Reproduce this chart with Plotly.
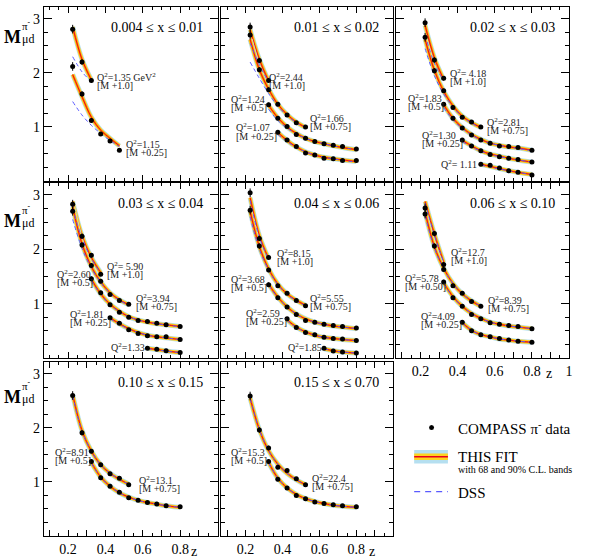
import plotly.graph_objects as go

W, H = 589, 560
FONT = "Liberation Serif"

# ---------------- data ----------------
Z_BINS = [0.225, 0.275, 0.325, 0.375, 0.425, 0.475, 0.525, 0.575, 0.625, 0.675, 0.725, 0.8]
ERR_BY_Z = [0.08, 0.05, 0.04, 0.035, 0.03, 0.025, 0.02, 0.02, 0.02, 0.02, 0.02, 0.02]

X_BIN_TITLES = ["0.004 ≤ x ≤ 0.01", "0.01 ≤ x ≤ 0.02", "0.02 ≤ x ≤ 0.03",
                "0.03 ≤ x ≤ 0.04", "0.04 ≤ x ≤ 0.06", "0.06 ≤ x ≤ 0.10",
                "0.10 ≤ x ≤ 0.15", "0.15 ≤ x ≤ 0.70"]

Y_TICKS = [1, 2, 3]
Y_TICK_TEXT = ["1", "2", "3"]
X_TICKS = [0.1, 0.2, 0.3, 0.4, 0.5, 0.6, 0.7, 0.8, 0.9, 1.0]
X_TICK_TEXT_EDGE = ["", "0.2", "", "0.4", "", "0.6", "", "0.8", "", "1"]
X_TICK_TEXT_INNER = ["", "0.2", "", "0.4", "", "0.6", "", "0.8", "", ""]

# panel 1 : 0.004 <= x <= 0.01
P1_A_M = [2.81, 2.20, 1.86]
P1_A_FIT = [2.85, 2.25, 1.87]
P1_A_DSS = [2.30, 2.02, 1.84]
P1_B_M = [2.12, 1.61, 1.12, 0.87, 0.74, 0.57]
P1_B_FIT = [1.97, 1.56, 1.18, 0.94, 0.79, 0.65]
P1_B_DSS = [1.47, 1.22, 1.03, 0.88, 0.75, 0.64]
# panel 2 : 0.01 <= x <= 0.02
P2_A_M = [2.85, 2.23, 1.86]
P2_A_FIT = [2.80, 2.25, 1.85]
P2_A_DSS = [2.55, 2.15, 1.83]
P2_B_M = [2.70, 2.06, 1.69, 1.42, 1.22, 1.08, 1.00]
P2_B_FIT = [2.62, 2.06, 1.70, 1.42, 1.23, 1.09, 0.99]
P2_B_DSS = [2.20, 1.90, 1.62, 1.39, 1.21, 1.08, 0.99]
P2_C_M = [1.41, 1.16, 1.01, 0.86, 0.79, 0.73, 0.69, 0.66, 0.64, 0.59]
P2_C_FIT = [1.40, 1.17, 1.00, 0.88, 0.79, 0.73, 0.69, 0.65, 0.62, 0.58]
P2_C_DSS = [1.33, 1.12, 0.98, 0.87, 0.79, 0.73, 0.69, 0.65, 0.62, 0.58]
P2_D_M = [0.90, 0.76, 0.64, 0.52, 0.48, 0.42, 0.41, 0.38, 0.38]
P2_D_FIT = [0.90, 0.75, 0.63, 0.54, 0.48, 0.44, 0.41, 0.39, 0.36]
P2_D_DSS = [0.86, 0.73, 0.62, 0.54, 0.48, 0.44, 0.41, 0.38, 0.35]
# panel 3 : 0.02 <= x <= 0.03
P3_A_M = [2.93, 2.24, 1.90]
P3_A_FIT = [2.88, 2.28, 1.88]
P3_A_DSS = [2.70, 2.18, 1.85]
P3_B_M = [2.66, 2.04, 1.67, 1.36, 1.18, 1.09, 1.00]
P3_B_FIT = [2.62, 2.05, 1.66, 1.39, 1.20, 1.08, 0.99]
P3_B_DSS = [2.45, 1.95, 1.61, 1.37, 1.19, 1.07, 0.98]
P3_C_M = [1.42, 1.16, 0.98, 0.85, 0.76, 0.70, 0.65, 0.64, 0.62, 0.57]
P3_C_FIT = [1.41, 1.16, 0.99, 0.86, 0.77, 0.70, 0.66, 0.63, 0.61, 0.57]
P3_C_DSS = [1.36, 1.13, 0.97, 0.85, 0.76, 0.70, 0.66, 0.63, 0.60, 0.56]
P3_D_M = [0.76, 0.65, 0.56, 0.49, 0.45, 0.42, 0.40, 0.35]
P3_D_FIT = [0.75, 0.65, 0.56, 0.50, 0.46, 0.42, 0.39, 0.35]
P3_D_DSS = [0.73, 0.63, 0.55, 0.49, 0.45, 0.42, 0.39, 0.35]
P3_E_M = [0.31, 0.29, 0.24, 0.19, 0.16, 0.11]
P3_E_FIT = [0.31, 0.27, 0.23, 0.19, 0.16, 0.12]
P3_E_DSS = [0.29, 0.26, 0.22, 0.19, 0.16, 0.12]
# panel 4 : 0.03 <= x <= 0.04
P4_A_M = [2.83, 2.24, 1.89, 1.54]
P4_A_FIT = [2.88, 2.25, 1.85, 1.57]
P4_A_DSS = [2.75, 2.20, 1.83, 1.56]
P4_B_M = [2.70, 2.08, 1.70, 1.41, 1.17, 1.06, 0.99]
P4_B_FIT = [2.78, 2.10, 1.68, 1.40, 1.20, 1.07, 0.98]
P4_B_DSS = [2.55, 2.02, 1.65, 1.39, 1.19, 1.06, 0.97]
P4_C_M = [1.46, 1.20, 0.98, 0.84, 0.75, 0.69, 0.67, 0.64, 0.61, 0.58]
P4_C_FIT = [1.45, 1.18, 0.99, 0.86, 0.76, 0.70, 0.66, 0.63, 0.61, 0.58]
P4_C_DSS = [1.42, 1.17, 0.98, 0.85, 0.76, 0.70, 0.66, 0.63, 0.61, 0.57]
P4_D_M = [0.74, 0.64, 0.52, 0.45, 0.41, 0.39, 0.39, 0.34]
P4_D_FIT = [0.74, 0.63, 0.54, 0.47, 0.42, 0.39, 0.37, 0.34]
P4_D_DSS = [0.72, 0.62, 0.53, 0.47, 0.42, 0.39, 0.37, 0.34]
P4_E_M = [0.18, 0.16, 0.135, 0.10]
P4_E_FIT = [0.18, 0.155, 0.13, 0.10]
P4_E_DSS = [0.17, 0.15, 0.125, 0.10]
# panel 5 : 0.04 <= x <= 0.06
P5_A_M = [3.04, 2.20, 1.85]
P5_A_FIT = [2.95, 2.25, 1.83]
P5_A_DSS = [2.90, 2.22, 1.82]
P5_B_M = [2.72, 2.06, 1.62, 1.33, 1.19, 1.06, 0.96]
P5_B_FIT = [2.70, 2.05, 1.64, 1.36, 1.18, 1.06, 0.97]
P5_B_DSS = [2.60, 2.00, 1.62, 1.35, 1.17, 1.05, 0.96]
P5_C_M = [1.35, 1.11, 0.94, 0.80, 0.69, 0.66, 0.62, 0.60, 0.58, 0.55]
P5_C_FIT = [1.36, 1.12, 0.94, 0.81, 0.72, 0.66, 0.62, 0.59, 0.57, 0.54]
P5_C_DSS = [1.34, 1.11, 0.94, 0.81, 0.72, 0.66, 0.62, 0.59, 0.57, 0.54]
P5_D_M = [0.72, 0.56, 0.47, 0.43, 0.38, 0.36, 0.35, 0.32]
P5_D_FIT = [0.70, 0.57, 0.48, 0.42, 0.38, 0.36, 0.34, 0.32]
P5_D_DSS = [0.69, 0.56, 0.48, 0.42, 0.38, 0.36, 0.34, 0.32]
P5_E_M = [0.18, 0.13, 0.11, 0.09]
P5_E_FIT = [0.17, 0.135, 0.11, 0.09]
P5_E_DSS = [0.17, 0.13, 0.11, 0.09]
# panel 6 : 0.06 <= x <= 0.10
P6_A_M = [2.76, 2.29, 1.72]
P6_A_FIT = [2.88, 2.28, 1.76]
P6_A_DSS = [2.85, 2.27, 1.76]
P6_B_M = [2.65, 2.06, 1.63, 1.33, 1.19, 1.04, 0.95]
P6_B_FIT = [2.68, 2.05, 1.65, 1.37, 1.18, 1.05, 0.95]
P6_B_DSS = [2.62, 2.02, 1.64, 1.37, 1.18, 1.05, 0.95]
P6_C_M = [1.40, 1.11, 0.95, 0.80, 0.72, 0.65, 0.62, 0.60, 0.58, 0.54]
P6_C_FIT = [1.38, 1.13, 0.95, 0.82, 0.73, 0.66, 0.62, 0.59, 0.57, 0.54]
P6_C_DSS = [1.37, 1.12, 0.95, 0.82, 0.73, 0.66, 0.62, 0.59, 0.57, 0.54]
P6_D_M = [0.66, 0.50, 0.43, 0.39, 0.36, 0.33, 0.31, 0.29]
P6_D_FIT = [0.65, 0.51, 0.43, 0.39, 0.35, 0.33, 0.31, 0.29]
P6_D_DSS = [0.64, 0.51, 0.43, 0.39, 0.35, 0.33, 0.31, 0.29]
# panel 7 : 0.10 <= x <= 0.15
P7_A_M = [2.60, 1.91, 1.57, 1.32, 1.15, 1.07, 0.95]
P7_A_FIT = [2.62, 1.95, 1.57, 1.32, 1.16, 1.05, 0.96]
P7_A_DSS = [2.60, 1.94, 1.57, 1.32, 1.16, 1.05, 0.96]
P7_B_M = [1.38, 1.08, 0.92, 0.81, 0.71, 0.66, 0.62, 0.59, 0.56, 0.54]
P7_B_FIT = [1.36, 1.09, 0.92, 0.80, 0.72, 0.66, 0.62, 0.59, 0.56, 0.53]
P7_B_DSS = [1.35, 1.09, 0.92, 0.80, 0.72, 0.66, 0.62, 0.59, 0.56, 0.53]
# panel 8 : 0.15 <= x <= 0.70
P8_A_M = [2.59, 1.96, 1.63, 1.27, 1.21, 1.06, 0.95]
P8_A_FIT = [2.55, 1.97, 1.58, 1.33, 1.16, 1.04, 0.95]
P8_A_DSS = [2.54, 1.97, 1.58, 1.33, 1.16, 1.04, 0.95]
P8_B_M = [1.38, 1.05, 0.89, 0.75, 0.69, 0.63, 0.60, 0.58, 0.56, 0.54]
P8_B_FIT = [1.36, 1.07, 0.89, 0.77, 0.69, 0.64, 0.60, 0.57, 0.55, 0.53]
P8_B_DSS = [1.35, 1.07, 0.89, 0.77, 0.69, 0.64, 0.60, 0.57, 0.55, 0.53]

# (panel, first z-bin index, data, fit, dss)
SERIES = [
    (1, 0, P1_A_M, P1_A_FIT, P1_A_DSS), (1, 0, P1_B_M, P1_B_FIT, P1_B_DSS),
    (2, 0, P2_A_M, P2_A_FIT, P2_A_DSS), (2, 0, P2_B_M, P2_B_FIT, P2_B_DSS),
    (2, 2, P2_C_M, P2_C_FIT, P2_C_DSS), (2, 3, P2_D_M, P2_D_FIT, P2_D_DSS),
    (3, 0, P3_A_M, P3_A_FIT, P3_A_DSS), (3, 0, P3_B_M, P3_B_FIT, P3_B_DSS),
    (3, 2, P3_C_M, P3_C_FIT, P3_C_DSS), (3, 4, P3_D_M, P3_D_FIT, P3_D_DSS),
    (3, 6, P3_E_M, P3_E_FIT, P3_E_DSS),
    (4, 0, P4_A_M, P4_A_FIT, P4_A_DSS), (4, 0, P4_B_M, P4_B_FIT, P4_B_DSS),
    (4, 2, P4_C_M, P4_C_FIT, P4_C_DSS), (4, 4, P4_D_M, P4_D_FIT, P4_D_DSS),
    (4, 8, P4_E_M, P4_E_FIT, P4_E_DSS),
    (5, 0, P5_A_M, P5_A_FIT, P5_A_DSS), (5, 0, P5_B_M, P5_B_FIT, P5_B_DSS),
    (5, 2, P5_C_M, P5_C_FIT, P5_C_DSS), (5, 4, P5_D_M, P5_D_FIT, P5_D_DSS),
    (5, 8, P5_E_M, P5_E_FIT, P5_E_DSS),
    (6, 0, P6_A_M, P6_A_FIT, P6_A_DSS), (6, 0, P6_B_M, P6_B_FIT, P6_B_DSS),
    (6, 2, P6_C_M, P6_C_FIT, P6_C_DSS), (6, 4, P6_D_M, P6_D_FIT, P6_D_DSS),
    (7, 0, P7_A_M, P7_A_FIT, P7_A_DSS), (7, 2, P7_B_M, P7_B_FIT, P7_B_DSS),
    (8, 0, P8_A_M, P8_A_FIT, P8_A_DSS), (8, 2, P8_B_M, P8_B_FIT, P8_B_DSS),
]

Q = "Q<sup>2</sup>="
# (panel, z, M of first line, first line, second line)
LABELS = [
    (1, 0.352, 1.93, Q + "1.35 GeV<sup>2</sup>", "[M +1.0]"),
    (1, 0.503, 0.685, Q + "1.15", "[M +0.25]"),
    (2, 0.321, 1.92, Q + "2.44", "[M +1.0]"),
    (2, 0.116, 1.51, Q + "1.24", "[M +0.5]"),
    (2, 0.544, 1.16, Q + "1.66", "[M +0.75]"),
    (2, 0.143, 0.99, Q + "1.07", "[M +0.25]"),
    (3, 0.352, 1.99, Q + " 4.18", "[M +1.0]"),
    (3, 0.125, 1.53, Q + "1.83", "[M +0.5]"),
    (3, 0.554, 1.10, Q + "2.81", "[M +0.75]"),
    (3, 0.205, 0.85, Q + "1.30", "[M +0.25]"),
    (3, 0.306, 0.315, Q + " 1.11", ""),
    (4, 0.405, 1.69, Q + " 5.90", "[M +1.0]"),
    (4, 0.134, 1.54, Q + "2.60", "[M +0.5]"),
    (4, 0.557, 1.105, Q + "3.94", "[M +0.75]"),
    (4, 0.205, 0.815, Q + "1.81", "[M +0.25]"),
    (4, 0.423, 0.21, Q + "1.33", ""),
    (5, 0.366, 1.93, Q + "8.15", "[M +1.0]"),
    (5, 0.116, 1.46, Q + "3.68", "[M +0.5]"),
    (5, 0.544, 1.105, Q + "5.55", "[M +0.75]"),
    (5, 0.197, 0.83, Q + "2.59", "[M +0.25]"),
    (5, 0.425, 0.21, Q + "1.85", ""),
    (6, 0.361, 1.95, Q + "12.7", "[M +1.0]"),
    (6, 0.111, 1.475, Q + "5.78", "[M +0.50]"),
    (6, 0.557, 1.06, Q + "8.39", "[M +0.75]"),
    (6, 0.200, 0.765, Q + "4.09", "[M +0.25]"),
    (7, 0.123, 1.55, Q + "8.91", "[M +0.5]"),
    (7, 0.574, 1.04, Q + "13.1", "[M +0.75]"),
    (8, 0.116, 1.55, Q + "15.3", "[M +0.5]"),
    (8, 0.553, 1.08, Q + "22.4", "[M +0.75]"),
]

# ---------------- layout geometry (pixels) ----------------
COLS = [(44, 219), (223, 396), (399, 573)]
ROWS = [(7, 181), (183, 358), (362, 536)]
M_TITLE_CENTERS = [37, 221, 397]
PANEL_POS = {1: (0, 0), 2: (1, 0), 3: (2, 0), 4: (0, 1), 5: (1, 1), 6: (2, 1), 7: (0, 2), 8: (1, 2)}
X_RANGE = [0.07, 1.0]
Y_RANGE = [0, 3.22]
PX_PER_M = 54.0


def px(x):
    return x / W


def py(y):
    return 1 - y / H


def ax(k, kind):
    return kind if k == 1 else f"{kind}{k}"


fig = go.Figure()

# bands
for (p, i0, m, fit, dss) in SERIES:
    z = Z_BINS[i0:i0 + len(m)]
    for color, width in [("#b5dff0", 5.0), ("#ffd21f", 3.6), ("#ff8a00", 2.0), ("#e8001c", 0.9)]:
        fig.add_trace(go.Scatter(x=z, y=fit, mode="lines", xaxis=ax(p, "x"), yaxis=ax(p, "y"),
                                 line=dict(color=color, width=width, shape="spline", smoothing=1.0),
                                 showlegend=False, hoverinfo="skip"))
# DSS
for (p, i0, m, fit, dss) in SERIES:
    z = Z_BINS[i0:i0 + len(m)]
    fig.add_trace(go.Scatter(x=z, y=dss, mode="lines", xaxis=ax(p, "x"), yaxis=ax(p, "y"),
                             line=dict(color="#5a5aff", width=1, dash="4px,3px", shape="spline"),
                             showlegend=False, hoverinfo="skip"))
# data
for (p, i0, m, fit, dss) in SERIES:
    z = Z_BINS[i0:i0 + len(m)]
    err = ERR_BY_Z[i0:i0 + len(m)]
    fig.add_trace(go.Scatter(x=z, y=m, mode="markers", xaxis=ax(p, "x"), yaxis=ax(p, "y"),
                             marker=dict(color="black", size=5),
                             error_y=dict(type="data", array=err, color="black", thickness=1, width=0),
                             showlegend=False))

layout = dict(width=W, height=H, margin=dict(l=0, r=0, t=0, b=0), autosize=False,
              paper_bgcolor="white", plot_bgcolor="white", showlegend=False,
              font=dict(family=FONT, size=14, color="black"))

tickfont = dict(family=FONT, size=14, color="black")
for k, (c, r) in PANEL_POS.items():
    x0, x1 = COLS[c]
    y0, y1 = ROWS[r]
    show_x = (r == 2) or (k == 6)
    xt = X_TICK_TEXT_EDGE if k == 6 else X_TICK_TEXT_INNER
    layout["xaxis" if k == 1 else f"xaxis{k}"] = dict(
        domain=[px(x0), px(x1)], range=X_RANGE, anchor=ax(k, "y"),
        showline=True, mirror="ticks", linecolor="black", linewidth=1,
        ticks="inside", ticklen=6, tickwidth=1, tickcolor="black",
        tickvals=X_TICKS, ticktext=xt, showticklabels=show_x, tickfont=tickfont,
        minor=dict(ticks="inside", dtick=0.05, tick0=0, ticklen=3, tickcolor="black"),
        showgrid=False, zeroline=False, fixedrange=True)
    layout["yaxis" if k == 1 else f"yaxis{k}"] = dict(
        domain=[py(y1), py(y0)], range=Y_RANGE, anchor=ax(k, "x"),
        showline=True, mirror="ticks", linecolor="black", linewidth=1,
        ticks="inside", ticklen=8, tickwidth=1, tickcolor="black",
        tickvals=Y_TICKS, ticktext=Y_TICK_TEXT, showticklabels=(c == 0), tickfont=tickfont,
        minor=dict(ticks="inside", dtick=0.25, tick0=0, ticklen=4, tickcolor="black"),
        showgrid=False, zeroline=False, fixedrange=True)

fig.update_layout(**layout)

ann = []
# panel titles
for k, title in enumerate(X_BIN_TITLES, start=1):
    ann.append(dict(text=title, xref=f"{ax(k, 'x')} domain", yref=f"{ax(k, 'y')} domain",
                    x=0.93, y=0.88, xanchor="right", yanchor="middle", showarrow=False,
                    font=dict(family=FONT, size=14, color="black")))
# curve labels (two lines, tight spacing)
for (p, z, m, line1, line2) in LABELS:
    ann.append(dict(text=line1, xref=ax(p, "x"), yref=ax(p, "y"), x=z, y=m,
                    xanchor="left", yanchor="middle", showarrow=False, borderpad=0,
                    font=dict(family=FONT, size=10, color="#222")))
    if line2:
        ann.append(dict(text=line2, xref=ax(p, "x"), yref=ax(p, "y"), x=z, y=m - 8.5 / PX_PER_M,
                        xanchor="left", yanchor="middle", showarrow=False, borderpad=0,
                        font=dict(family=FONT, size=10, color="#222")))
# y-axis titles  M^{pi-}_{mu d}
for yc in M_TITLE_CENTERS:
    ann.append(dict(text="<b>M</b>", xref="paper", yref="paper", x=px(13), y=py(yc),
                    xanchor="center", yanchor="middle", showarrow=False,
                    font=dict(family=FONT, size=18, color="black")))
    ann.append(dict(text="π<sup>-</sup>", xref="paper", yref="paper", x=px(20.5), y=py(yc - 12),
                    xanchor="left", yanchor="middle", showarrow=False,
                    font=dict(family=FONT, size=11, color="black")))
    ann.append(dict(text="μd", xref="paper", yref="paper", x=px(20.5), y=py(yc + 2),
                    xanchor="left", yanchor="middle", showarrow=False,
                    font=dict(family=FONT, size=12, color="black")))
# z axis labels
for (xz, yz) in [(195, 551), (375, 551), (553, 373)]:
    ann.append(dict(text="z", xref="paper", yref="paper", x=px(xz), y=py(yz),
                    xanchor="center", yanchor="middle", showarrow=False,
                    font=dict(family=FONT, size=14, color="black")))
# legend texts
for (xl, yl, text, size) in [(459, 427.5, "COMPASS π<sup>-</sup> data", 15),
                              (459, 457, "THIS FIT", 15),
                              (459, 469.5, "with 68 and 90% C.L. bands", 10),
                              (459, 493, "DSS", 15)]:
    ann.append(dict(text=text, xref="paper", yref="paper", x=px(xl), y=py(yl),
                    xanchor="left", yanchor="middle", showarrow=False,
                    font=dict(family=FONT, size=size, color="black")))
fig.update_layout(annotations=ann)

shapes = [
    dict(type="circle", xref="paper", yref="paper", x0=px(432), x1=px(437), y0=py(430), y1=py(425),
         fillcolor="black", line=dict(color="black", width=0)),
    dict(type="rect", xref="paper", yref="paper", x0=px(417), x1=px(451), y0=py(463.5), y1=py(450),
         fillcolor="#b5dff0", line=dict(width=0)),
    dict(type="rect", xref="paper", yref="paper", x0=px(417), x1=px(451), y0=py(460), y1=py(453.5),
         fillcolor="#ffd21f", line=dict(width=0)),
    dict(type="line", xref="paper", yref="paper", x0=px(417), x1=px(451), y0=py(456.8), y1=py(456.8),
         line=dict(color="#e8001c", width=1.5)),
    dict(type="line", xref="paper", yref="paper", x0=px(417), x1=px(451), y0=py(491.7), y1=py(491.7),
         line=dict(color="#5a5aff", width=1.2, dash="6px,5px")),
]
fig.update_layout(shapes=shapes)

fig.write_html("out.html", config={"responsive": False, "displayModeBar": False},
               post_script="document.body.style.margin='0';document.body.style.overflow='hidden';")
